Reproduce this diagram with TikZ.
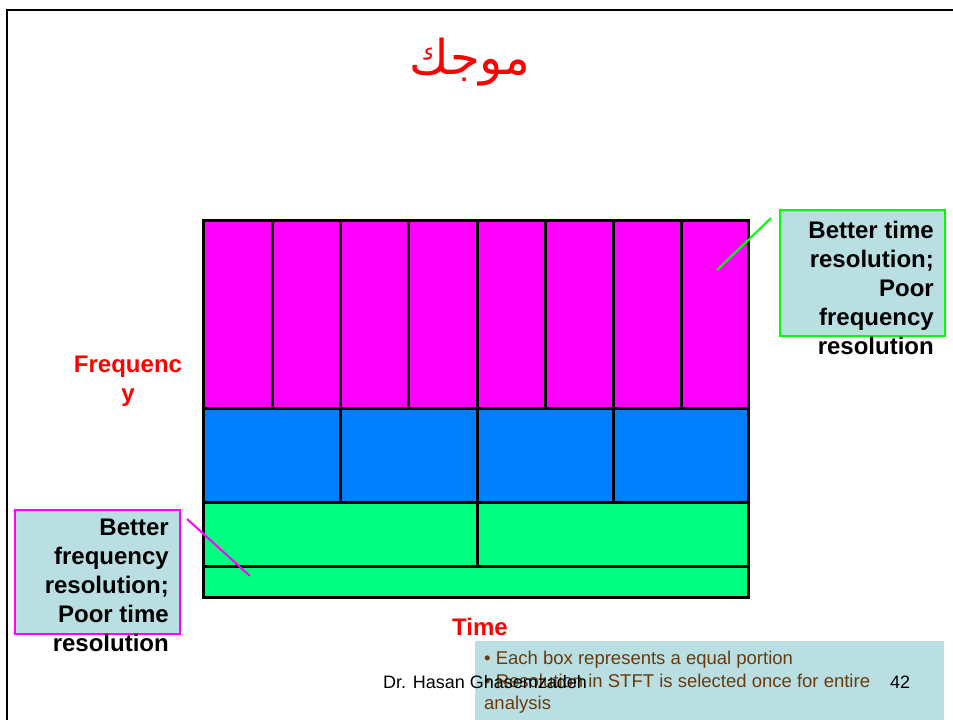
\documentclass[tikz,border=0pt]{standalone}
\usepackage{fontspec}
\setmainfont{Liberation Sans}
\newfontfamily\arabicfont[Script=Arabic]{DejaVu Sans}
\TeXXeTstate=1
\definecolor{pinkc}{HTML}{FF00FF}
\definecolor{bluec}{HTML}{0080FF}
\definecolor{greenc}{HTML}{00FF80}
\definecolor{calloutfill}{HTML}{B9DFE3}
\definecolor{browntext}{HTML}{6B3A0A}
\definecolor{limec}{HTML}{00FF00}
\tikzset{
  cell/.style={draw=black, line width=3pt},
  callout/.style={draw, line width=2pt, fill=calloutfill, minimum width=165pt, minimum height=126pt, inner sep=0pt, anchor=north west},
  callouttext/.style={font=\fontsize{24}{29}\selectfont\bfseries, align=right, inner sep=0pt, anchor=north east},
  axislabel/.style={font=\fontsize{24}{29}\selectfont\bfseries, text=red, align=center, inner sep=0pt},
  notetext/.style={font=\fontsize{18.5}{22.5}\selectfont, text=browntext, align=left, inner sep=0pt, anchor=north west},
  footer/.style={font=\fontsize{18}{22}\selectfont, inner sep=0pt}
}
\begin{document}
\begin{tikzpicture}[x=1pt,y=-1pt]
\useasboundingbox (0,0) rectangle (953,720);
\fill[white] (0,0) rectangle (953,720);
% slide border
\draw[line width=2.5pt] (7,720) -- (7,10) -- (953,10);
% title
\node[text=red, font=\fontsize{48}{56}\selectfont\arabicfont, inner sep=0pt] (title) at (470,62) {\beginR موجك\endR};
% grid fills
\fill[pinkc] (203,220) rectangle (748,408);
\fill[bluec] (203,408) rectangle (748,502);
\fill[greenc] (203,502) rectangle (748,597);
% row lines
\draw[cell] (203,408) -- (748,408);
\draw[cell] (203,502) -- (748,502);
\draw[cell] (203,566) -- (748,566);
% column lines
\foreach \x in {272,340,408,477,545,613,681} \draw[cell] (\x,220) -- (\x,408);
\foreach \x in {340,477,613} \draw[cell] (\x,408) -- (\x,502);
\draw[cell] (477,502) -- (477,566);
\draw[cell] (203,220) rectangle (748,597);
% axis labels
\node[axislabel] (freq) at (128,381) {Frequenc\\y};
\node[axislabel] (time) at (480,627) {Time};
% right callout
\node[callout, draw=limec] (rbox) at (779,209) {};
\node[callouttext] (rtext) at (934,221) {Better time\\resolution;\\Poor\\frequency\\resolution};
\coordinate (rstart) at (771,218);
\coordinate (rend) at (717,270);
\draw[limec, line width=2pt] (rstart) -- (rend);
% left callout
\node[callout, draw=pinkc, minimum height=124pt] (lbox) at (14,509) {};
\node[callouttext] (ltext) at (169,519) {Better\\frequency\\resolution;\\Poor time\\resolution};
\coordinate (lstart) at (187,519);
\coordinate (lend) at (250,576);
\draw[pinkc, line width=2pt] (lstart) -- (lend);
% bottom note
\fill[calloutfill] (475,641) rectangle (944,720);
\node[notetext] (note) at (484,651) {• Each box represents a equal portion\\• Resolution in STFT is selected once for entire\\analysis};
\node[footer, anchor=west] (author) at (383,682) {Dr. Hasan Ghasemzadeh};
\node[footer] (page) at (900,682) {42};
\end{tikzpicture}
\end{document}
